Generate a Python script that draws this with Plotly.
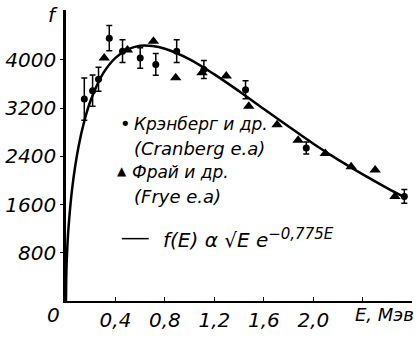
import plotly.graph_objects as go

# Theoretical curve f(E) ∝ sqrt(E) e^(-0.775E)
curve_E = [0.0, 0.003, 0.01, 0.02, 0.05, 0.1, 0.15, 0.2, 0.3, 0.4, 0.5, 0.6, 0.7, 0.8,
           1.0, 1.2, 1.4, 1.6, 1.8, 2.0, 2.2, 2.4, 2.6, 2.75]
curve_f = [0, 475, 865, 1210, 1870, 2545, 3000, 3330, 3775, 4035, 4175, 4235, 4230, 4185,
           4010, 3760, 3480, 3185, 2895, 2610, 2345, 2100, 1870, 1710]

# Cranberg e.a. (circles with error bars)
cran_E = [0.148, 0.215, 0.263, 0.35, 0.457, 0.60, 0.726, 0.895, 1.115, 1.452, 1.943, 2.736]
cran_f = [3350, 3490, 3680, 4360, 4145, 4030, 3925, 4145, 3840, 3505, 2540, 1735]
cran_err = [350, 260, 200, 210, 190, 170, 180, 190, 150, 150, 100, 115]

# Frye e.a. (triangles)
frye_E = [0.309, 0.497, 0.707, 0.887, 1.10, 1.296, 1.478, 1.707, 1.877, 2.097, 2.306, 2.50, 2.66]
frye_f = [4030, 4165, 4310, 3706, 3785, 3735, 3230, 2923, 2665, 2447, 2228, 2172, 1735]

y_ticks = [800, 1600, 2400, 3200, 4000]
y_labels = ["800", "1600", "2400", "3200", "4000"]
x_ticks = [0.4, 0.8, 1.2, 1.6, 2.0]
x_labels = ["0,4", "0,8", "1,2", "1,6", "2,0"]
x_minor = [2.4, 2.8]

FONT = "DejaVu Sans"
tick_fnt = dict(family=FONT, size=20, color="black", style="italic")
leg_fnt = dict(family=FONT, size=18, color="black", style="italic")

fig = go.Figure()
fig.add_trace(go.Scatter(x=curve_E, y=curve_f, mode="lines",
                         line=dict(color="black", width=2.5), line_shape="spline",
                         showlegend=False, hoverinfo="skip"))
fig.add_trace(go.Scatter(x=cran_E, y=cran_f, mode="markers",
                         marker=dict(symbol="circle", size=7, color="black"),
                         error_y=dict(type="data", array=cran_err, visible=True,
                                      color="black", thickness=1.5, width=3),
                         showlegend=False))
fig.add_trace(go.Scatter(x=frye_E, y=frye_f, mode="markers",
                         marker=dict(symbol="triangle-up", size=10, color="black"),
                         showlegend=False))

fig.update_layout(
    width=417, height=337,
    margin=dict(l=65, r=5, t=10, b=33),
    paper_bgcolor="white", plot_bgcolor="white",
    xaxis=dict(range=[0, 2.798], showgrid=False, zeroline=False,
               showline=True, linecolor="black", linewidth=1.5,
               tickmode="array", tickvals=x_ticks, ticktext=x_labels,
               ticks="inside", ticklen=4, tickcolor="black", tickwidth=1,
               tickfont=tick_fnt,
               minor=dict(tickmode="array", tickvals=x_minor, ticks="inside",
                          ticklen=4, tickcolor="black", tickwidth=1)),
    yaxis=dict(range=[0, 4828], showgrid=False, zeroline=False,
               showline=True, linecolor="black", linewidth=2.5,
               tickmode="array", tickvals=y_ticks, ticktext=y_labels,
               ticks="outside", ticklen=3, tickcolor="black", tickwidth=1,
               tickfont=tick_fnt),
    shapes=[dict(type="line", xref="paper", yref="paper",
                 x0=(121 - 65) / 347, x1=(148 - 65) / 347,
                 y0=(304 - 241) / 294, y1=(304 - 241) / 294,
                 line=dict(color="black", width=1.5))],
)

ann = [
    (52, 318, "0", tick_fnt, "center"),
    (52, 15, "f", tick_fnt, "center"),
    (416, 318, "E, Мэв", dict(tick_fnt, size=18), "right"),
    (125, 125, "•", leg_fnt, "center"),
    (131, 125, "Крэнберг и др.", dict(leg_fnt, size=17), "left"),
    (131, 150, "(Cranberg e.a)", leg_fnt, "left"),
    (121, 173, "<span style='font-size:12px'>▲</span>", leg_fnt, "center"),
    (129, 174, "Фрай и др.", dict(leg_fnt, size=17), "left"),
    (131, 198, "(Frye e.a)", leg_fnt, "left"),
    (160, 241, "f(E) α √E e<sup><span style='font-size:15px'>−0,775E</span></sup>",
     dict(leg_fnt, size=20), "left"),
]
for x, y, t, f, xa in ann:
    fig.add_annotation(x=(x - 65) / 347, y=(304 - y) / 294,
                       xref="paper", yref="paper",
                       text=t, showarrow=False, xanchor=xa, yanchor="middle",
                       font=f)

fig.write_html("out.html")
